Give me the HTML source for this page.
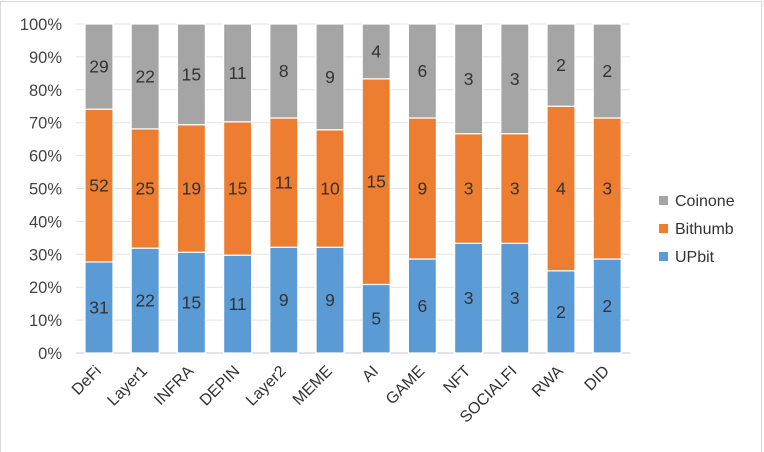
<!DOCTYPE html>
<html><head><meta charset="utf-8"><style>
html,body{margin:0;padding:0;background:#fff;}
svg{display:block;font-family:"Liberation Sans",Arial,sans-serif;}
</style></head><body>
<svg id="c" width="764" height="452" viewBox="0 0 764 452" xmlns="http://www.w3.org/2000/svg">
<rect x="0.5" y="1.5" width="761" height="452" fill="#fff" stroke="#d8d8d8"/>
<g id="grid"></g><g id="bars"></g><g id="lab"></g>
<g font-size="16" fill="#333">
<rect x="659" y="196" width="9" height="9" fill="#a5a5a5"/><text x="675" y="206">Coinone</text>
<rect x="659" y="224" width="9" height="9" fill="#ed7d31"/><text x="675" y="234">Bithumb</text>
<rect x="659" y="252" width="9" height="9" fill="#5b9bd5"/><text x="675" y="262">UPbit</text>
</g>
</svg>
<script>
(function(){
var ns="http://www.w3.org/2000/svg";
function el(p,t,a,txt){var e=document.createElementNS(ns,t);for(var k in a)e.setAttribute(k,a[k]);if(txt!=null)e.textContent=txt;document.getElementById(p).appendChild(e);}
var pTop=24,bot=353,H=bot-pTop;
for(var i=0;i<=10;i++){var y=bot-H*i/10;el("grid","line",{x1:76,x2:630,y1:y,y2:y,stroke:i==0?"#c8c8c8":"#e2e2e2","stroke-width":1});
el("grid","text",{x:62,y:y+6,"text-anchor":"end","font-size":"16.5",fill:"#444"},(i*10)+"%");}
var cats=["DeFi","Layer1","INFRA","DEPIN","Layer2","MEME","AI","GAME","NFT","SOCIALFI","RWA","DID"];
var up=[31,22,15,11,9,9,5,6,3,3,2,2],bi=[52,25,19,15,11,10,15,9,3,3,4,3],co=[29,22,15,11,8,9,4,6,3,3,2,2];
for(var j=0;j<12;j++){var x=85+j*46.2,w=28,t=up[j]+bi[j]+co[j];
var vals=[up[j],bi[j],co[j]],cols=["#5b9bd5","#ed7d31","#a5a5a5"],cy=bot;
for(var s=0;s<3;s++){var h=H*vals[s]/t;
el("bars","rect",{x:x,y:cy-h,width:w,height:h,fill:cols[s],stroke:"#fff","stroke-width":1.2});
el("bars","text",{x:x+w/2,y:cy-h/2+6,"text-anchor":"middle","font-size":"17.5",fill:"#333"},vals[s]);cy-=h;}
var cx=x+w/2+3,ly=372;
el("lab","text",{x:cx,y:ly,"text-anchor":"end","font-size":"16",fill:"#333",transform:"rotate(-45 "+cx+" "+ly+")"},cats[j]);}
})();
</script>
</body></html>
